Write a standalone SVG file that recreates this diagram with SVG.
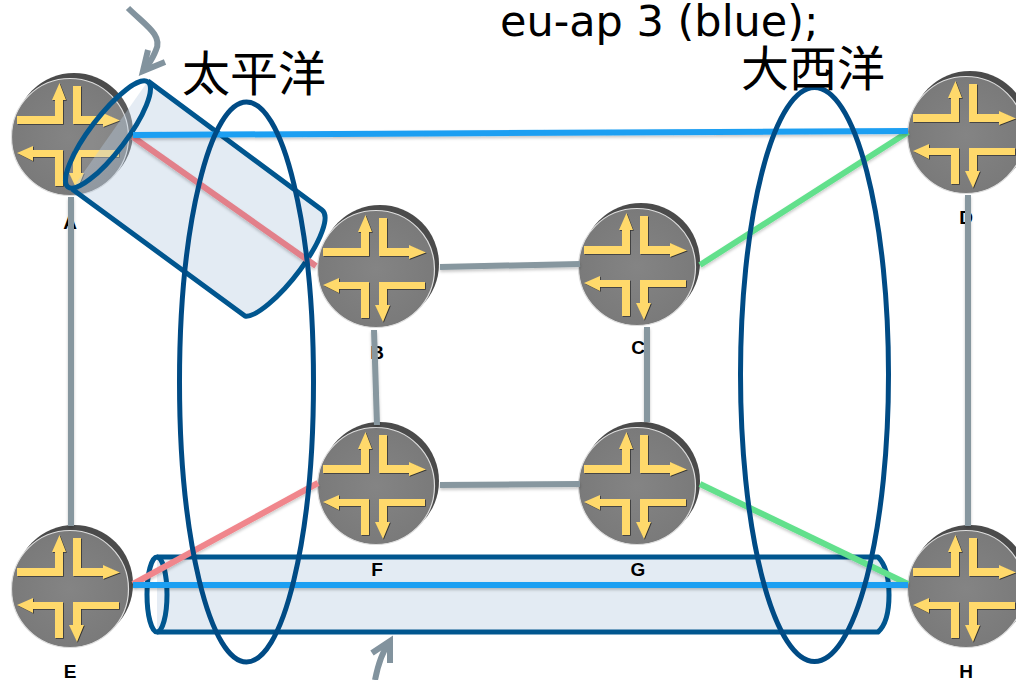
<svg xmlns="http://www.w3.org/2000/svg" xmlns:xlink="http://www.w3.org/1999/xlink" width="1016" height="680" viewBox="0 0 1016 680">
<style>
.back{fill:#4b4b4b}
.disc{fill:url(#dg);stroke:#dedede;stroke-width:1.2}
.ar{fill:#ffd96b}
.ars{fill:#333}
.lab{font-family:"Liberation Sans",Arial,sans-serif;font-weight:700;font-size:19px;text-anchor:middle;fill:#000}
.big{font-family:"Noto Sans CJK JP","Noto Sans CJK SC",sans-serif;font-size:48px;fill:#000}
.t{font-family:"DejaVu Sans",sans-serif;font-size:43px;fill:#000}
.l{fill:none;stroke-width:6;filter:url(#sh)}
.g{stroke:#87979f}.r{stroke:#f0868c}.r2{stroke:#e2808a}.gr{stroke:#62e08c}.b{stroke:#1d9ff2}
.tube{fill:#b5cbe0;fill-opacity:.38;stroke:#00568f;stroke-width:5;stroke-linejoin:round}
.cap{fill:#fff;fill-opacity:.08;stroke:#00568f;stroke-width:5}
.oc{fill:none;stroke:#004b85;stroke-width:5}
.ca{fill:none;stroke:#82939e;stroke-width:6;stroke-linejoin:miter}
</style>
<defs>
<radialGradient id="dg" cx="50%" cy="50%" r="50%"><stop offset="0" stop-color="#848484"/><stop offset="1" stop-color="#7a7a7a"/></radialGradient>
<filter id="sh" x="0" y="0" width="1016" height="680" filterUnits="userSpaceOnUse"><feDropShadow dx="0" dy="2" stdDeviation="1.5" flood-color="#000" flood-opacity=".22"/></filter>
<g id="arrows">
<path d="M-53,-21L-15,-21L-15,-37L-18,-37L-10.500,-54L-4,-37L-7,-37L-7,-13L-53,-13Z"/>
<path d="M3,-51L11,-51L11,-21L33,-21L33,-24L50,-16.500L33,-10L33,-13L3,-13Z"/>
<path d="M-53,16L-37,9L-37,13L-7,13L-7,49L-15,49L-15,20L-37,20L-37,24Z"/>
<path d="M49,13L49,20L11,20L11,36L14,36L7,53L-1,36L3,36L3,13Z"/>
</g>
<g id="router">
<circle class="back" cx="4" cy="-5" r="59"/>
<circle class="disc" r="58.500"/>
<use href="#arrows" class="ars" x="0.800" y="0.800"/>
<use href="#arrows" class="ar"/>
</g>
</defs>
<rect width="1016" height="680" fill="#fff"/>
<g id="tube-bottom">
<path class="tube" d="M157,557L878,557C886,565 889,580 889,595C889,610 886,625 878,632L157,632"/>
<ellipse class="cap" cx="157" cy="594.500" rx="10" ry="37.500"/>
</g>
<g id="node-A"><use href="#router" x="70" y="137"/><text class="lab" x="70" y="229">A</text></g>
<g id="node-B"><use href="#router" x="376" y="269"/><text class="lab" x="377" y="359">B</text></g>
<g id="node-C"><use href="#router" x="637" y="267"/><text class="lab" x="638" y="354">C</text></g>
<g id="node-D"><use href="#router" x="966" y="135"/><text class="lab" x="966" y="224">D</text></g>
<g id="node-E"><use href="#router" x="70" y="589"/><text class="lab" x="70" y="678">E</text></g>
<g id="node-F"><use href="#router" x="376" y="486"/><text class="lab" x="377" y="576">F</text></g>
<g id="node-G"><use href="#router" x="637" y="486"/><text class="lab" x="638" y="576">G</text></g>
<g id="node-H"><use href="#router" x="966" y="589"/><text class="lab" x="966" y="678">H</text></g>
<g id="connectors">
<path class="l g" d="M71,197V526"/>
<path class="l g" d="M440,267L580,264"/>
<path class="l g" d="M374,330L377,425"/>
<path class="l g" d="M647,327V422"/>
<path class="l g" d="M440,485L580,484"/>
<path class="l g" d="M968,195V526"/>
<path class="l r" d="M133,584L318,483"/>
<path class="l gr" d="M700,265L908,132"/>
<path class="l gr" d="M700,484L908,584"/>
</g>
<g id="tube-pacific">
<path class="tube" d="M148,81L322,210C330,216 322,240 300,270C280,297 255,318 245,316L72,189"/>
<path class="l r2" d="M133,137L316,266"/>
<ellipse class="cap" cx="108" cy="134.500" rx="66" ry="18" transform="rotate(-52.700 108 134.500)"/>
</g>
<g id="links-blue">
<path class="l b" d="M133,135L908,131"/>
<path class="l b" d="M133,585L908,585"/>
</g>
<g id="oceans">
<ellipse class="oc" cx="246.500" cy="382" rx="67" ry="280"/>
<ellipse class="oc" cx="814.500" cy="374.500" rx="74" ry="287"/>
</g>
<g id="callouts">
<path class="ca" d="M128,8C145,25 163,35 156,50C153,58 150,62 146,68"/>
<path class="ca" d="M148,50L143,71L165,62"/>
<path class="ca" d="M375,680C378,665 382,652 389,643"/>
<path class="ca" d="M372,653L390,641L390,663"/>
</g>
<g id="text">
<text class="t" x="500" y="36">eu-ap 3 (blue);</text>
<text class="big" x="182" y="91">太平洋</text>
<text class="big" x="741" y="86">大西洋</text>
</g>
</svg>
